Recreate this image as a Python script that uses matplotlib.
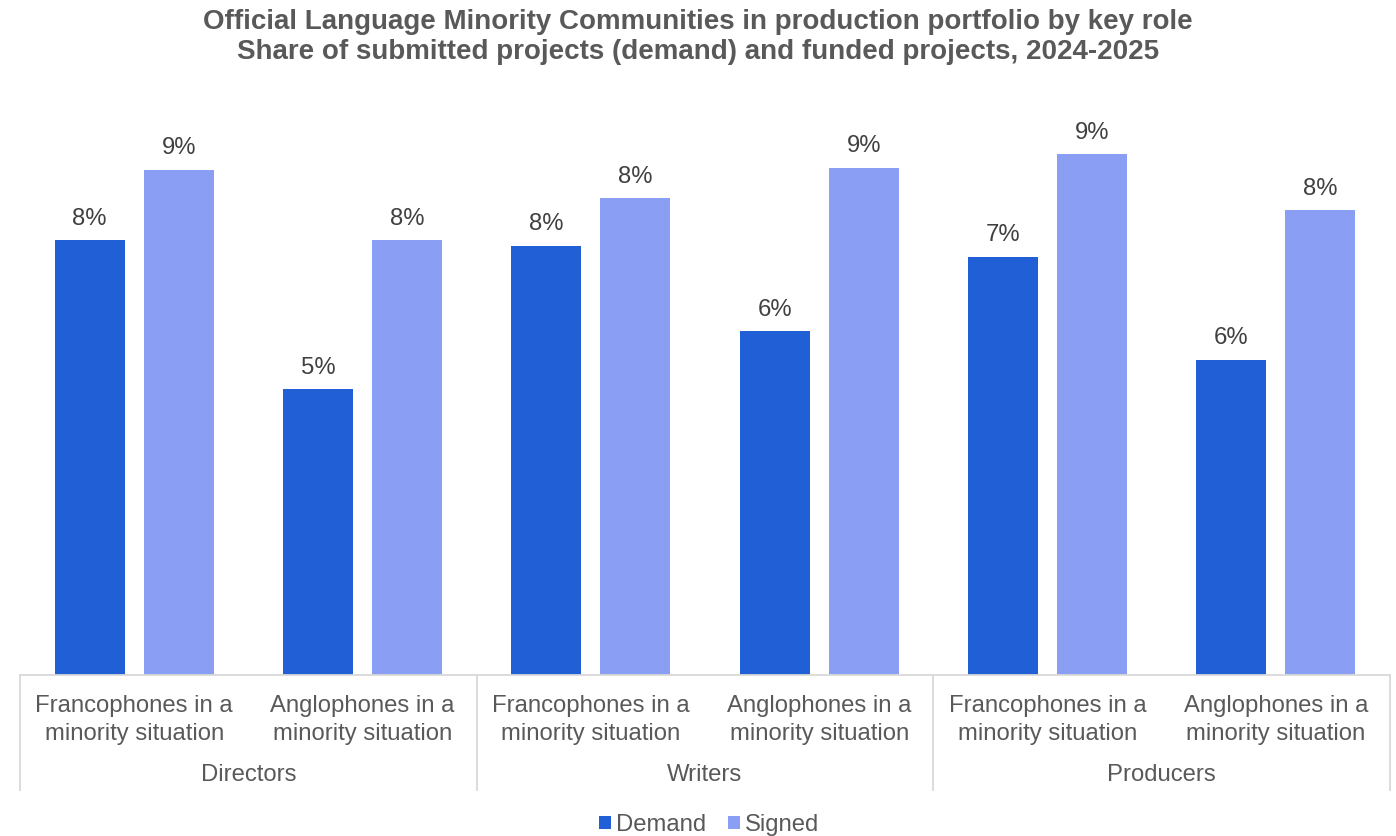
import matplotlib
matplotlib.use("Agg")
import matplotlib.pyplot as plt
import matplotlib.transforms as mtransforms
from matplotlib.patches import Patch
import numpy as np

plt.rcParams['font.family'] = ['Liberation Sans', 'DejaVu Sans']

groups = ["Directors", "Writers", "Producers"]
subcats = ["Francophones in a\nminority situation", "Anglophones in a\nminority situation"]
series = ["Demand", "Signed"]
demand = [7.70, 5.06, 7.60, 6.08, 7.40, 5.58]
signed = [8.94, 7.70, 8.44, 8.98, 9.22, 8.23]
colors = {"Demand": "#215FD6", "Signed": "#8A9EF3"}

W, H = 1396, 836
fig = plt.figure(figsize=(W / 100, H / 100), dpi=100)
ax_left, ax_right = 20 / W, 1390 / W
ax_bottom, ax_top = 1 - 675 / H, 1 - 110 / H
ax = fig.add_axes([ax_left, ax_bottom, ax_right - ax_left, ax_top - ax_bottom])

FS = 17.2
n = len(demand)
x = np.arange(n)
bw = 0.307
off = 0.195
for vals, name, sgn in [(demand, "Demand", -1), (signed, "Signed", 1)]:
    bars = ax.bar(x + sgn * off, vals, width=bw, color=colors[name], edgecolor="none", zorder=2)
    for b, v in zip(bars, vals):
        ax.annotate(f"{round(v):.0f}%", (b.get_x() + b.get_width() / 2, v),
                    xytext=(0, 7.5), textcoords="offset points", ha="center", va="bottom",
                    fontsize=FS, color="#404040")

ax.set_xlim(-0.5, n - 0.5)
ax.set_ylim(0, 10)
for s in ax.spines.values():
    s.set_visible(False)
ax.set_xticks([])
ax.set_yticks([])

trans = mtransforms.blended_transform_factory(ax.transData, ax.transAxes)
ax_h_px = 675 - 110


def yf(px):
    return -(px - 675) / ax_h_px


line_c = "#D9D9D9"
ax.plot([-0.5, n - 0.5], [0, 0], transform=trans, color=line_c, lw=1.3, clip_on=False, zorder=3)
for xs in [-0.5, 1.5, 3.5, 5.5]:
    ax.plot([xs, xs], [0, yf(790)], transform=trans, color=line_c, lw=1.3, clip_on=False)

for i in range(n):
    ax.text(i, yf(720), subcats[i % 2], transform=trans, ha="center", va="center",
            fontsize=FS, color="#595959", linespacing=1.38)
for g, name in enumerate(groups):
    ax.text(2 * g + 0.5, yf(775), name, transform=trans, ha="center", va="center",
            fontsize=FS, color="#595959")

fig.text(0.5, 1 - 37 / H,
         "Official Language Minority Communities in production portfolio by key role\n"
         "Share of submitted projects (demand) and funded projects, 2024-2025",
         ha="center", va="center", fontsize=20, fontweight="bold", color="#595959",
         linespacing=1.2)

handles = [Patch(facecolor=colors[s], edgecolor="none") for s in series]
leg = fig.legend(handles, series, loc="center", bbox_to_anchor=(709 / W, 1 - 825 / H), ncol=2,
                 frameon=False, fontsize=FS, handlelength=0.52, handleheight=0.52,
                 handletextpad=0.2, columnspacing=0.9, borderaxespad=0)
for t in leg.get_texts():
    t.set_color("#595959")

fig.savefig("out.png", dpi=100, facecolor="white")
